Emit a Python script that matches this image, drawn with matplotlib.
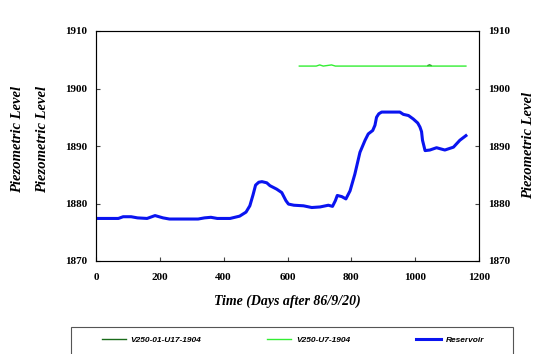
import numpy as np
import matplotlib.pyplot as plt
from matplotlib.patches import Rectangle

# reservoir level
res_day = [0, 40, 70, 85, 110, 130, 160, 185, 210, 230, 280, 320, 340, 360, 380,
           420, 450, 470, 482, 492, 500, 510, 520, 535, 545, 566, 582, 595, 603,
           620, 650, 676, 702, 728, 741, 750, 756, 770, 783, 796, 811, 827, 843,
           853, 867, 874, 879, 886, 895, 952, 963, 979, 994, 1008, 1015, 1020,
           1023, 1031, 1046, 1067, 1093, 1120, 1140, 1159]
res_lvl = [1877.4, 1877.4, 1877.4, 1877.7, 1877.7, 1877.5, 1877.4, 1877.9, 1877.5,
           1877.3, 1877.3, 1877.3, 1877.5, 1877.6, 1877.4, 1877.4, 1877.8, 1878.5,
           1879.6, 1881.5, 1883.2, 1883.7, 1883.8, 1883.6, 1883.1, 1882.5, 1881.9,
           1880.5, 1879.9, 1879.7, 1879.6, 1879.3, 1879.4, 1879.7, 1879.5, 1880.5,
           1881.4, 1881.2, 1880.8, 1882.2, 1885.1, 1888.9, 1891.0, 1892.1, 1892.7,
           1893.6, 1895.0, 1895.6, 1895.9, 1895.9, 1895.5, 1895.3, 1894.7, 1894.0,
           1893.3, 1892.5, 1891.0, 1889.2, 1889.3, 1889.7, 1889.3, 1889.8, 1891.0,
           1891.8]

# V250-U7-1904 piezometer
u7_day = [637, 690, 701, 712, 725, 738, 750, 800, 900, 1000, 1100, 1159]
u7_lvl = [1903.9, 1903.9, 1904.1, 1903.9, 1904.0, 1904.1, 1903.9, 1903.9, 1903.9,
          1903.9, 1903.9, 1903.9]

# V250-01-U17-1904 piezometer (only a short blip is visible)
u17_day = [1040, 1045, 1050]
u17_lvl = [1904.0, 1904.1, 1904.0]

xticks = [0, 200, 400, 600, 800, 1000, 1200]
yticks = [1870, 1880, 1890, 1900, 1910]

serif = 'Liberation Serif'
sans = 'Liberation Sans'

fig = plt.figure(figsize=(5.35, 3.54), dpi=100)
ax = fig.add_axes([96 / 535, 1 - 261 / 354, 383 / 535, 230 / 354])

l1, = ax.plot(u17_day, u17_lvl, color='#1a6b1a', lw=1, label='V250-01-U17-1904')
l2, = ax.plot(u7_day, u7_lvl, color='#33ee33', lw=1, label='V250-U7-1904')
l3, = ax.plot(res_day, res_lvl, color='#0a14f0', lw=2.2, label='Reservoir')

ax.set_xlim(0, 1200)
ax.set_ylim(1870, 1910)
ax.set_xticks(xticks)
ax.set_yticks(yticks)
ax.tick_params(direction='in', length=3, labelsize=8, color='#444444')
ax.tick_params(axis='x', pad=8.5)
ax.tick_params(axis='y', pad=6.5)
for t in ax.get_xticklabels() + ax.get_yticklabels():
    t.set_fontfamily(serif)
    t.set_fontweight('bold')
for s in ax.spines.values():
    s.set_color('#555555')

ax2 = ax.twinx()
ax2.set_ylim(1870, 1910)
ax2.set_yticks(yticks)
ax2.tick_params(direction='in', length=3, labelsize=8, pad=6.5, color='#444444')
for t in ax2.get_yticklabels():
    t.set_fontfamily(serif)
    t.set_fontweight('bold')

ax.set_xlabel('Time (Days after 86/9/20)', fontfamily=serif, fontsize=10,
              fontweight='bold', fontstyle='italic', labelpad=9)

for xp in [18, 43]:
    fig.text(xp / 535, 1 - 139 / 354, 'Piezometric Level', rotation=90,
             ha='center', va='center', fontfamily=serif, fontsize=10.5,
             fontweight='bold', fontstyle='italic')
fig.text(529 / 535, 1 - 145 / 354, 'Piezometric Level', rotation=90,
         ha='center', va='center', fontfamily=serif, fontsize=10.5,
         fontweight='bold', fontstyle='italic')

# legend box runs off the bottom of the image
fig.patches.append(Rectangle((71 / 535, -0.1), 442 / 535, 0.1 + 1 - 327 / 354,
                             transform=fig.transFigure, fill=False,
                             edgecolor='#555555', lw=0.8))
fig.legend(handles=[l1, l2, l3], loc='center left',
           bbox_to_anchor=(94 / 535, 1 - 340 / 354), ncol=3, frameon=False,
           prop={'family': sans, 'size': 6, 'weight': 'bold', 'style': 'italic'},
           handlelength=2.9, handletextpad=0.6, columnspacing=7.9)

fig.savefig('out.png', dpi=100)
